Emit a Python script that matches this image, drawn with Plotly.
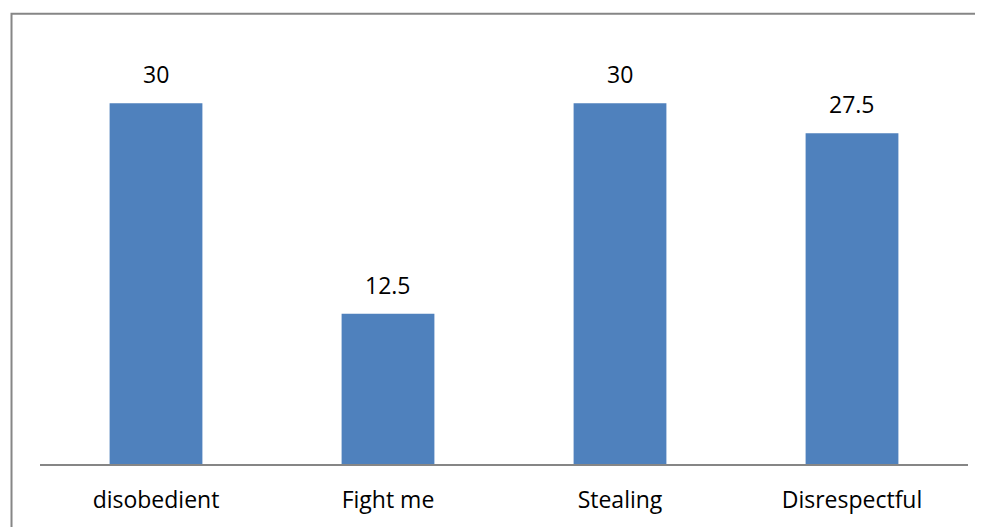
import plotly.graph_objects as go

categories = ["disobedient", "Fight me", "Stealing", "Disrespectful"]
values = [30, 12.5, 30, 27.5]
value_labels = ["30", "12.5", "30", "27.5"]

FONT = "Open Sans"
BAR_COLOR = "#4F81BD"
LINE_COLOR = "#868686"

fig = go.Figure()
fig.add_trace(go.Bar(
    x=categories, y=values,
    marker=dict(color=BAR_COLOR, line=dict(width=0)),
    hoverinfo="x+y",
))

for c, v, t in zip(categories, values, value_labels):
    fig.add_annotation(x=c, y=v, text=t, showarrow=False, yanchor="bottom",
                       yshift=11, font=dict(family=FONT, size=23, color="#000000"))

# outer chart border (top and left visible; image is cropped right/bottom)
fig.add_shape(type="rect", xref="paper", yref="paper",
              x0=-0.0307, x1=1.05, y0=-0.3, y1=1.0697,
              line=dict(color=LINE_COLOR, width=2), fillcolor="rgba(0,0,0,0)",
              layer="below")

fig.update_layout(
    width=975, height=519,
    margin=dict(l=32, r=15, t=35, b=61),
    paper_bgcolor="white", plot_bgcolor="white",
    bargap=0.6,
    showlegend=False,
    font=dict(family=FONT, size=23, color="#000000"),
    xaxis=dict(showline=True, linecolor=LINE_COLOR, linewidth=2,
               ticks="outside", ticklen=14, tickcolor="rgba(0,0,0,0)",
               tickfont=dict(family=FONT, size=23, color="#000000"),
               showgrid=False, zeroline=False),
    yaxis=dict(range=[0, 35], visible=False, showgrid=False, zeroline=False),
)

fig.write_html("out.html")
